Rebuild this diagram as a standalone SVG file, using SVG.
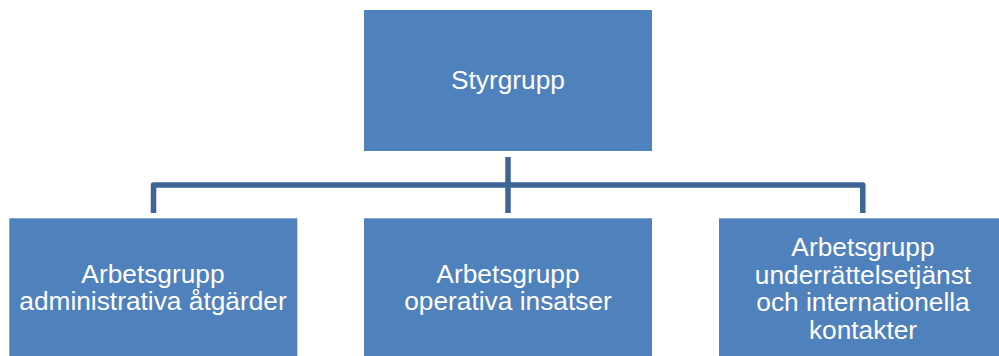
<svg xmlns="http://www.w3.org/2000/svg" width="999" height="356" viewBox="0 0 999 356">
<style>
.box{fill:#4F81BD;}
.lbl{fill:#FFFFFF;font-family:"Liberation Sans",Arial,sans-serif;font-size:26.3px;text-anchor:middle;}
.conn{fill:none;stroke:#3D6595;stroke-width:5.5;stroke-linejoin:round;}
</style>
<rect width="999" height="356" fill="#FFFFFF"/>
<g id="connectors">
<path class="conn" d="M508 157 V213"/>
<path class="conn" d="M153.5 213 V185 H862.8 V213"/>
</g>
<g id="styrgrupp">
<rect class="box" x="364" y="10" width="288" height="141"/>
<text class="lbl" x="508" y="89.3">Styrgrupp</text>
</g>
<g id="admin">
<rect class="box" x="9.3" y="218.3" width="288" height="141"/>
<text class="lbl" x="153" y="283"><tspan x="153">Arbetsgrupp</tspan><tspan x="153" dy="27">administrativa åtgärder</tspan></text>
</g>
<g id="operativa">
<rect class="box" x="364" y="218.3" width="288" height="141"/>
<text class="lbl" x="508" y="282.5"><tspan x="508">Arbetsgrupp</tspan><tspan x="508" dy="27.5">operativa insatser</tspan></text>
</g>
<g id="underrattelse">
<rect class="box" x="719" y="218.3" width="288" height="141"/>
<text class="lbl" x="863" y="256"><tspan x="863">Arbetsgrupp</tspan><tspan x="863" dy="27.5">underrättelsetjänst</tspan><tspan x="863" dy="27.5">och internationella</tspan><tspan x="863" dy="27.5">kontakter</tspan></text>
</g>
</svg>
